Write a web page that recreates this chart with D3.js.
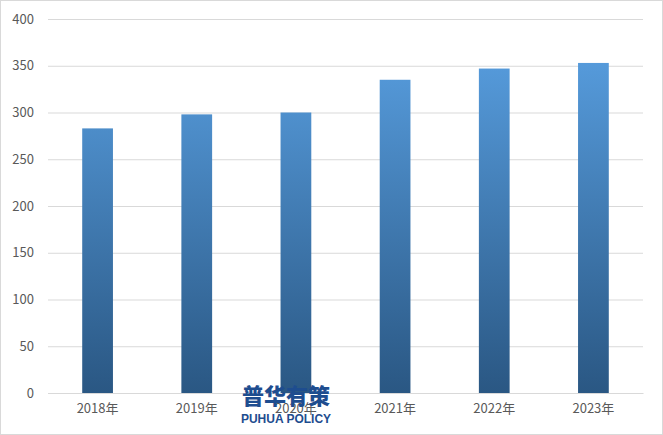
<!DOCTYPE html>
<html><head><meta charset="utf-8">
<script src="https://cdn.jsdelivr.net/npm/d3@7/dist/d3.min.js"></script>
<style>body{margin:0;background:#fff}svg{display:block}</style>
</head><body><svg id="c" width="663" height="435"></svg>
<script>
const categories = ["2018年","2019年","2020年","2021年","2022年","2023年"];
const values = [283, 298, 300, 335, 347, 353];
const yTicks = [0,50,100,150,200,250,300,350,400];

const svg = d3.select("#c");
const W = 663, H = 435;
const m = {l:48, r:20, t:19, b:42};
svg.append("rect").attr("x",0.5).attr("y",0.5).attr("width",W-1).attr("height",H-1)
  .attr("fill","#fff").attr("stroke","#d9d9d9");

const x = d3.scaleBand().domain(categories).range([m.l, W-m.r]).paddingInner(0.69).paddingOuter(0.345);
const y = d3.scaleLinear().domain([0,400]).range([H-m.b, m.t]);

const defs = svg.append("defs");
const g = defs.append("linearGradient").attr("id","bg").attr("gradientUnits","userSpaceOnUse")
  .attr("x1",0).attr("x2",0).attr("y1",y(400)).attr("y2",y(0));
g.append("stop").attr("offset","0%").attr("stop-color","#5BA3E6");
g.append("stop").attr("offset","100%").attr("stop-color","#2A5783");

const yAxis = d3.axisLeft(y).tickValues(yTicks).tickSize(-(W-m.l-m.r)).tickPadding(14);
const ya = svg.append("g").attr("transform",`translate(${m.l},0)`).call(yAxis);
ya.select(".domain").remove();
ya.selectAll("line").attr("stroke","#d9d9d9");
ya.selectAll("text").attr("fill","#595959").style("font-family","'Noto Sans CJK SC','Noto Sans',sans-serif").style("font-size","13px");

svg.append("g").selectAll("rect").data(values).join("rect")
  .attr("x",(d,i)=>x(categories[i])).attr("width",x.bandwidth())
  .attr("y",d=>y(d)).attr("height",d=>y(0)-y(d)).attr("fill","url(#bg)");

const xAxis = d3.axisBottom(x).tickSize(0).tickPadding(11);
const xa = svg.append("g").attr("transform",`translate(0,${y(0)})`).call(xAxis);
xa.select(".domain").attr("stroke","#d9d9d9");
xa.selectAll("text").attr("fill","#595959").style("font-family","'Noto Sans CJK SC','Noto Sans',sans-serif").style("font-size","13px");

// watermark
svg.append("text").attr("x",286).attr("y",404).attr("text-anchor","middle")
  .attr("fill","#1E4D8F").style("font-family","'Noto Sans CJK SC',sans-serif").style("font-weight","900")
  .style("font-size","22px").text("普华有策");
svg.append("text").attr("x",286).attr("y",423).attr("text-anchor","middle")
  .attr("fill","#1E4D8F").style("font-family","'Liberation Sans',Arial,sans-serif").style("font-weight","bold")
  .style("font-size","12px").text("PUHUA POLICY");
</script></body></html>
